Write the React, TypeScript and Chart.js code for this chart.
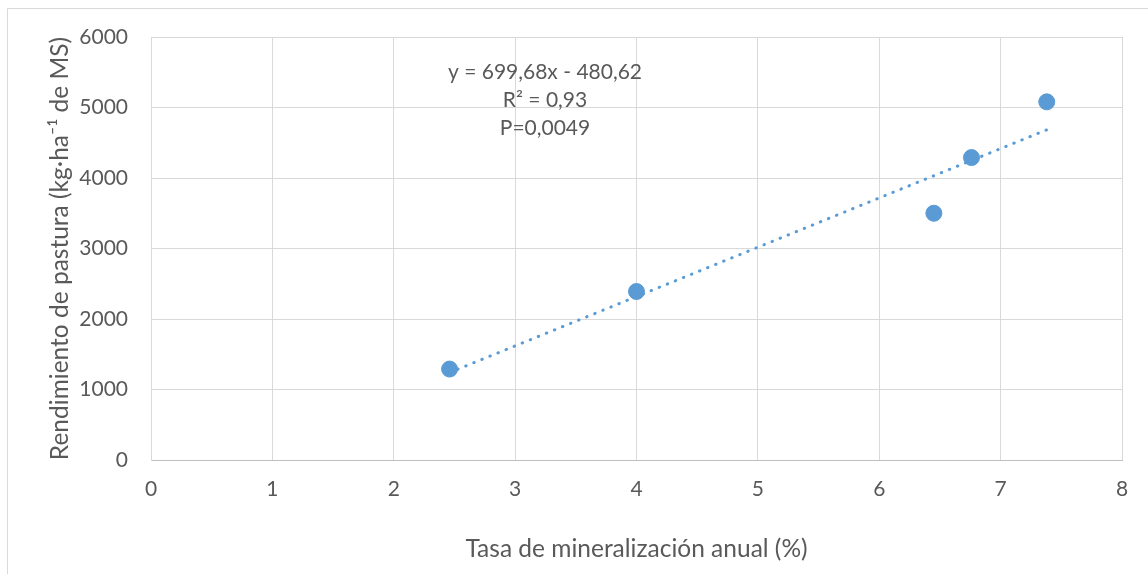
import React, { useEffect, useRef } from "react";
import { Chart, registerables } from "chart.js";

Chart.register(...registerables);

const mineralizationRate = [2.46, 4.0, 6.45, 6.76, 7.38];
const pastureYield = [1290, 2390, 3500, 4290, 5080];
const trendSlope = 699.68;
const trendIntercept = -480.62;
const annotationLines = ["y = 699,68x - 480,62", "R² = 0,93", "P=0,0049"];
const xTitle = "Tasa de mineralización anual (%)";
const yTitle = "Rendimiento de pastura (kg·ha⁻¹ de MS)";

const FONT = "Lato";
const TEXT = "#595959";
const BLUE = "#5b9bd5";
const GRID = "#d9d9d9";

export default function App() {
  const ref = useRef<HTMLCanvasElement | null>(null);
  useEffect(() => {
    if (!ref.current) return;
    const xMin = Math.min(...mineralizationRate);
    const xMax = Math.max(...mineralizationRate);
    const trend = [
      { x: xMin, y: trendSlope * xMin + trendIntercept },
      { x: xMax, y: trendSlope * xMax + trendIntercept },
    ];
    const frame = {
      id: "frame",
      beforeDraw(chart: any) {
        const c = chart.ctx;
        c.save();
        c.fillStyle = "#ffffff";
        c.fillRect(0, 0, chart.width, chart.height);
        c.strokeStyle = GRID;
        c.lineWidth = 1;
        c.beginPath();
        c.moveTo(7.5, chart.height);
        c.lineTo(7.5, 8.5);
        c.lineTo(chart.width, 8.5);
        c.stroke();
        c.restore();
      },
      afterDatasetsDraw(chart: any) {
        const c = chart.ctx;
        c.save();
        c.fillStyle = TEXT;
        c.font = `21px ${FONT}`;
        c.textAlign = "center";
        c.textBaseline = "middle";
        annotationLines.forEach((t, i) => c.fillText(t, 545, 72 + i * 28));
        c.restore();
      },
    };
    const chart = new Chart(ref.current, {
      type: "scatter",
      data: {
        datasets: [
          {
            type: "line",
            label: "Lineal",
            data: trend,
            borderColor: BLUE,
            borderWidth: 3,
            borderDash: [0.5, 8.2],
            borderCapStyle: "round",
            pointRadius: 0,
            fill: false,
            order: 2,
          } as any,
          {
            label: "Rendimiento",
            data: mineralizationRate.map((x, i) => ({ x, y: pastureYield[i] })),
            backgroundColor: BLUE,
            borderColor: BLUE,
            pointRadius: 8,
            pointHoverRadius: 8,
            order: 1,
          },
        ],
      },
      options: {
        responsive: false,
        animation: false,
        layout: { padding: { left: 0, top: 37, right: 26, bottom: 0 } },
        plugins: { legend: { display: false }, tooltip: { enabled: false } },
        scales: {
          x: {
            type: "linear",
            min: 0,
            max: 8,
            ticks: {
              stepSize: 1,
              color: TEXT,
              font: { family: FONT, size: 21 },
              padding: 17,
              callback: (v: any) => String(v),
            },
            grid: { color: GRID, drawTicks: false },
            border: { color: "#bfbfbf" },
            title: {
              display: true,
              text: xTitle,
              color: TEXT,
              font: { family: FONT, size: 24.5 },
              padding: { top: 0, bottom: 10 },
            },
            afterFit(scale: any) {
              scale.height = 114;
            },
          },
          y: {
            type: "linear",
            min: 0,
            max: 6000,
            ticks: {
              stepSize: 1000,
              color: TEXT,
              font: { family: FONT, size: 21 },
              padding: 23,
              callback: (v: any) => String(v),
            },
            grid: { color: GRID, drawTicks: false },
            border: { color: GRID },
            title: {
              display: true,
              text: yTitle,
              color: TEXT,
              font: { family: FONT, size: 24.5 },
              padding: { top: 45, bottom: 0 },
            },
            afterFit(scale: any) {
              scale.width = 151;
            },
          },
        },
      },
      plugins: [frame],
    });
    return () => chart.destroy();
  }, []);
  return (
    <div style={{ position: "fixed", left: 0, top: 0, width: 1148, height: 574, background: "#fff" }}>
      <canvas ref={ref} width={1148} height={574} style={{ width: 1148, height: 574, display: "block" }} />
    </div>
  );
}
